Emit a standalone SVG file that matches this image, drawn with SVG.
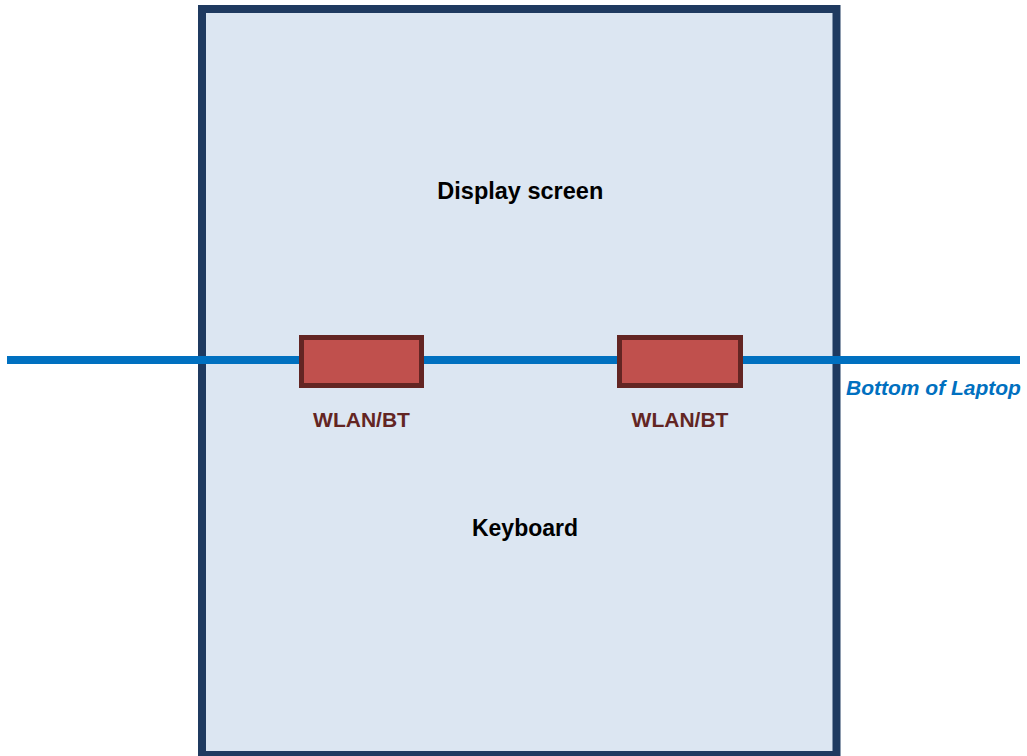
<svg xmlns="http://www.w3.org/2000/svg" width="1027" height="756" viewBox="0 0 1027 756">
<style>
.lbl{font-family:"Liberation Sans",Arial,sans-serif;font-weight:bold;text-anchor:middle;fill:#000}
.wl{font-family:"Liberation Sans",Arial,sans-serif;font-weight:bold;text-anchor:middle;fill:#632523;font-size:21px}
.mod{fill:#C0504D;stroke:#632523;stroke-width:5}
</style>
<rect width="1027" height="756" fill="#FFFFFF"/>
<g id="laptop">
<rect x="202" y="9" width="634.5" height="746" fill="#DCE6F2" stroke="#1F3A60" stroke-width="8"/>
<text class="lbl" x="520.3" y="199.3" font-size="23.5">Display screen</text>
<text class="lbl" x="525" y="536" font-size="23">Keyboard</text>
</g>
<g id="connectors">
<line x1="7" y1="360" x2="1020" y2="360" stroke="#0070C0" stroke-width="8"/>
</g>
<g id="bottom-label">
<text x="846" y="395" font-family="'Liberation Sans',Arial,sans-serif" font-weight="bold" font-style="italic" font-size="21" fill="#0070C0">Bottom of Laptop</text>
</g>
<g id="wlan1">
<rect class="mod" x="301.5" y="337.5" width="120" height="48"/>
<text class="wl" x="361.5" y="426.5">WLAN/BT</text>
</g>
<g id="wlan2">
<rect class="mod" x="619.5" y="337.5" width="121" height="48"/>
<text class="wl" x="680" y="426.5">WLAN/BT</text>
</g>
</svg>
